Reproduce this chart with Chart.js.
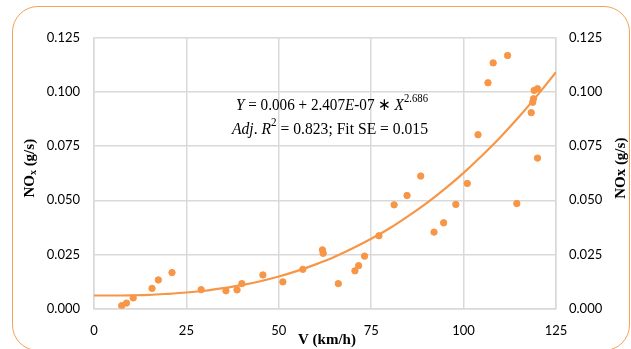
<!DOCTYPE html>
<html>
<head>
<meta charset="utf-8">
<script src="https://cdn.jsdelivr.net/npm/chart.js@4/dist/chart.umd.min.js"></script>
<style>
  html, body { margin: 0; padding: 0; background: #fff; overflow: hidden; }
  #wrap { position: relative; width: 631px; height: 349px; overflow: hidden; }
  #frame {
    position: absolute; left: 12px; top: 6px; width: 618px; height: 345px;
    border: 1.3px solid #f4a257; border-radius: 26px; box-sizing: border-box;
  }
  canvas { position: absolute; left: 0; top: 0; }
</style>
</head>
<body>
<div id="wrap">
  <div id="frame"></div>
  <canvas id="chart" width="631" height="349"></canvas>
</div>
<script>
// measured speed (km/h) and NOx (g/s)
const speeds = [7.5, 8.8, 10.6, 15.7, 17.4, 21.1, 29.0, 35.7, 38.7, 40.0, 45.7, 51.1, 56.5,
                61.8, 62.0, 66.1, 70.6, 71.6, 73.2, 77.1, 81.2, 84.7, 88.4, 92.0, 94.6, 97.9,
                101.0, 103.9, 106.6, 108.0, 111.9, 114.4, 118.3, 118.7, 118.9, 119.1, 120.0, 120.0];
const noxValues = [0.0013, 0.0025, 0.0049, 0.0093, 0.0132, 0.0166, 0.0087, 0.0082, 0.0086, 0.0115, 0.0155, 0.0123, 0.0181,
                   0.0271, 0.0255, 0.0115, 0.0174, 0.0198, 0.0242, 0.0336, 0.0479, 0.0522, 0.0612, 0.0353, 0.0396, 0.0481,
                   0.0578, 0.0803, 0.1043, 0.1135, 0.1169, 0.0485, 0.0905, 0.0953, 0.0969, 0.1008, 0.1016, 0.0695];

// fitted curve
const fitSpeeds = [0, 5, 10, 15, 20, 25, 30, 35, 40, 45, 50, 55, 60, 65, 70, 75, 80, 85, 90, 95, 100, 105, 110, 115, 120, 125];
const fitNox = [0.0060, 0.0060, 0.0061, 0.0063, 0.0068, 0.0074, 0.0082, 0.0094, 0.0108, 0.0126, 0.0148, 0.0174, 0.0204,
                0.0238, 0.0278, 0.0322, 0.0371, 0.0427, 0.0487, 0.0554, 0.0627, 0.0707, 0.0793, 0.0886, 0.0986, 0.1092];

const xTicks = [0, 25, 50, 75, 100, 125];
const yTicks = [0, 0.025, 0.05, 0.075, 0.1, 0.125];

const orange = "#f79646";
const grid = "#d9d9d9";
const tickFont = { family: "Lato, 'Liberation Sans', sans-serif", size: 13 };

const points = speeds.map((v, i) => ({ x: v, y: noxValues[i] }));
const fit = fitSpeeds.map((v, i) => ({ x: v, y: fitNox[i] }));

// ── titles and fit equation drawn by hand (subscripts, italics) ──
const extras = {
    id: "extras",
    afterDraw(chart) {
        const ctx = chart.ctx;
        const area = chart.chartArea;
        const midY = (area.top + area.bottom) / 2 - 5;
        ctx.save();
        ctx.fillStyle = "#000";

        // left title: NO_x (g/s)
        ctx.save();
        ctx.translate(30, midY);
        ctx.rotate(-Math.PI / 2);
        drawRuns(ctx, [
            { t: "NO", f: "bold 15px 'Liberation Serif'" },
            { t: "x", f: "bold 10px 'Liberation Serif'", dy: 3 },
            { t: " (g/s)", f: "bold 15px 'Liberation Serif'" }
        ], 0, 0);
        ctx.restore();

        // right title: NOx (g/s)
        ctx.save();
        ctx.translate(621, midY);
        ctx.rotate(-Math.PI / 2);
        drawRuns(ctx, [{ t: "NOx (g/s)", f: "bold 15px 'Liberation Serif'" }], 0, 0);
        ctx.restore();

        // x title
        drawRuns(ctx, [{ t: "V (km/h)", f: "bold 15px 'Liberation Serif'" }], 327, 340);

        // fit equation
        const it = "italic 17px 'Liberation Serif'";
        const rm = "17px 'Liberation Serif'";
        const sup = "12px 'Liberation Serif'";
        drawRuns(ctx, [
            { t: "Y", f: it }, { t: " = 0.006 + 2.407", f: rm }, { t: "E", f: it },
            { t: "-07 \u2217 ", f: rm }, { t: "X", f: it }, { t: "2.686", f: sup, dy: -7 }
        ], 332, 106, 192);
        drawRuns(ctx, [
            { t: "Adj", f: it }, { t: ". ", f: rm }, { t: "R", f: it }, { t: "2", f: sup, dy: -7 },
            { t: " = 0.823; Fit SE = 0.015", f: rm }
        ], 330, 130, 196);
        ctx.restore();
    }
};

// draws a row of text pieces centred on x; squeezes to maxW if given
function drawRuns(ctx, runs, x, y, maxW) {
    let total = 0;
    runs.forEach(r => { ctx.font = r.f; r.w = ctx.measureText(r.t).width; total += r.w; });
    const k = maxW ? Math.min(1, maxW / total) : 1;
    ctx.save();
    ctx.translate(x - (total * k) / 2, y);
    ctx.scale(k, 1);
    ctx.textBaseline = "middle";
    ctx.textAlign = "left";
    let cx = 0;
    runs.forEach(r => {
        ctx.font = r.f;
        ctx.fillText(r.t, cx, r.dy || 0);
        cx += r.w;
    });
    ctx.restore();
}

new Chart(document.getElementById("chart"), {
    type: "scatter",
    data: {
        datasets: [
            {
                label: "NOx",
                data: points,
                backgroundColor: orange,
                borderColor: orange,
                pointRadius: 3.2,
                pointHoverRadius: 3.2,
                order: 1
            },
            {
                label: "Fit",
                data: fit,
                showLine: true,
                borderColor: orange,
                borderWidth: 2.2,
                pointRadius: 0,
                tension: 0.4,
                cubicInterpolationMode: "monotone",
                fill: false,
                order: 2
            }
        ]
    },
    options: {
        responsive: false,
        animation: false,
        layout: { padding: { top: 38, left: 0, right: 0, bottom: 0 } },
        plugins: {
            legend: { display: false },
            tooltip: { enabled: false }
        },
        scales: {
            x: {
                type: "linear",
                min: 0,
                max: 125,
                afterBuildTicks: s => { s.ticks = xTicks.map(v => ({ value: v })); },
                afterFit: s => { s.height = 40.5; },
                grid: { color: grid, lineWidth: 1.5, drawTicks: false },
                border: { color: grid, width: 1.5 },
                ticks: { font: tickFont, color: "#000", padding: 15, maxRotation: 0 }
            },
            y: {
                position: "left",
                min: 0,
                max: 0.125,
                afterBuildTicks: s => { s.ticks = yTicks.map(v => ({ value: v })); },
                afterFit: s => { s.width = 94; },
                grid: { color: grid, lineWidth: 1.5, drawTicks: false },
                border: { color: grid, width: 1.5 },
                ticks: { font: tickFont, color: "#000", padding: 14, callback: v => v.toFixed(3) }
            },
            y2: {
                position: "right",
                min: 0,
                max: 0.125,
                afterBuildTicks: s => { s.ticks = yTicks.map(v => ({ value: v })); },
                afterFit: s => { s.width = 75; },
                grid: { display: false, drawTicks: false },
                border: { color: grid, width: 1.5 },
                ticks: { font: tickFont, color: "#000", padding: 13, callback: v => v.toFixed(3) }
            }
        }
    },
    plugins: [extras]
});
</script>
</body>
</html>
